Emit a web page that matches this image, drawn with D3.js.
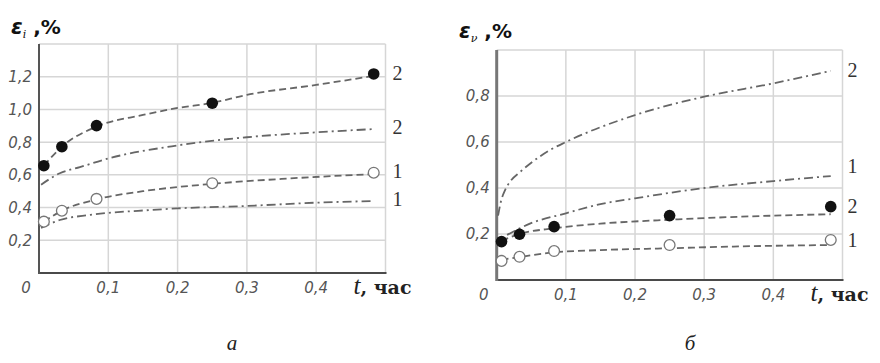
<!DOCTYPE html>
<html>
<head>
<meta charset="utf-8">
<script src="https://cdn.jsdelivr.net/npm/d3@7"></script>
<style>
  html, body { margin: 0; padding: 0; background: #fff; }
  svg { display: block; }
</style>
</head>
<body>
<svg id="chart" width="880" height="363"></svg>
<script>
// Time points of the measurements, hours
const tPoints = [0.007, 0.033, 0.083, 0.25, 0.483];

// Panel а: intensity of shear strain, %
const epsI_filled = [0.656, 0.772, 0.901, 1.038, 1.217];
const epsI_open   = [0.314, 0.381, 0.453, 0.549, 0.613];
// fitted curves as [t, value]
const epsI_fit2_dash = [[0.007,0.656],[0.033,0.772],[0.083,0.895],[0.15,0.966],[0.2,1.009],[0.25,1.04],[0.3,1.089],[0.4,1.15],[0.483,1.205]];
const epsI_fit2_dot  = [[0.003,0.54],[0.03,0.61],[0.059,0.647],[0.1,0.70],[0.2,0.78],[0.3,0.83],[0.4,0.86],[0.483,0.88]];
const epsI_fit1_dash = [[0.007,0.314],[0.033,0.381],[0.083,0.45],[0.15,0.50],[0.25,0.545],[0.35,0.575],[0.483,0.605]];
const epsI_fit1_dot  = [[0.003,0.275],[0.03,0.324],[0.074,0.355],[0.16,0.385],[0.2,0.395],[0.3,0.41],[0.4,0.43],[0.483,0.44]];

// Panel б: volumetric strain, %
const epsV_filled = [0.167, 0.199, 0.232, 0.28, 0.319];
const epsV_open   = [0.083, 0.101, 0.126, 0.152, 0.174];
const epsV_fit2_up   = [[0.002,0.28],[0.006,0.34],[0.012,0.39],[0.02,0.43],[0.034,0.47],[0.05,0.51],[0.077,0.565],[0.1,0.60],[0.2,0.717],[0.3,0.797],[0.4,0.855],[0.483,0.909]];
const epsV_fit1_up   = [[0.015,0.196],[0.048,0.245],[0.1,0.29],[0.15,0.330],[0.2,0.355],[0.3,0.40],[0.4,0.43],[0.483,0.452]];
const epsV_fit2_low  = [[0.007,0.17],[0.033,0.20],[0.083,0.225],[0.15,0.245],[0.25,0.262],[0.35,0.275],[0.483,0.286]];
const epsV_fit1_low  = [[0.007,0.088],[0.033,0.10],[0.083,0.12],[0.15,0.13],[0.25,0.138],[0.35,0.146],[0.483,0.152]];

const xTicks = [0.1, 0.2, 0.3, 0.4];
const yTicksI = [0.2, 0.4, 0.6, 0.8, 1.0, 1.2];
const yTicksV = [0.2, 0.4, 0.6, 0.8];

const svg = d3.select("#chart");
const fmt = v => d3.format(".1f")(v).replace(".", ",");

const DASH = "7,4";
const DASHDOT = "9,4,2,4";
const TICK_FONT = "italic 15px 'DejaVu Sans'";

function panel(cfg) {
  const x = d3.scaleLinear().domain([0, 0.5]).range([cfg.left, cfg.right]);
  const y = d3.scaleLinear().domain([0, cfg.yMax]).range([cfg.bottom, cfg.top]);
  const g = svg.append("g");

  // grid
  const gridX = [...xTicks, 0.5];
  g.selectAll(".gx").data(gridX).join("line")
    .attr("x1", d => x(d)).attr("x2", d => x(d))
    .attr("y1", y(0)).attr("y2", y(cfg.yMax))
    .attr("stroke", "#d6d6d6").attr("stroke-width", 1.5);
  const gridY = [...cfg.yTicks, cfg.yMax];
  g.selectAll(".gy").data(gridY).join("line")
    .attr("x1", x(0)).attr("x2", x(0.5))
    .attr("y1", d => y(d)).attr("y2", d => y(d))
    .attr("stroke", "#d6d6d6").attr("stroke-width", 1.5);

  // axes
  g.append("line").attr("x1", x(0)).attr("x2", x(0.5) + 1)
    .attr("y1", y(0)).attr("y2", y(0))
    .attr("stroke", "#4a4a4a").attr("stroke-width", 2);
  g.append("line").attr("x1", x(0)).attr("x2", x(0))
    .attr("y1", y(0) + 1).attr("y2", y(cfg.yMax))
    .attr("stroke", cfg.axisColor).attr("stroke-width", cfg.axisWidth);

  // tick labels
  g.selectAll(".ty").data(cfg.yTicks).join("text")
    .attr("x", x(0) - 7).attr("y", d => y(d)).attr("dy", "0.36em")
    .attr("text-anchor", "end")
    .style("font", TICK_FONT).attr("fill", "#555")
    .text(fmt);
  g.selectAll(".tx").data(xTicks).join("text")
    .attr("x", d => x(d)).attr("y", y(0) + 20)
    .attr("text-anchor", "middle")
    .style("font", TICK_FONT).attr("fill", "#555")
    .text(fmt);
  g.append("text").attr("x", x(0) - 13).attr("y", y(0) + 20)
    .attr("text-anchor", "middle")
    .style("font", TICK_FONT).attr("fill", "#555")
    .text("0");

  // x axis title
  const tt = g.append("text").attr("x", x(0.5) - 32).attr("y", y(0) + 21)
    .attr("fill", "#222");
  tt.append("tspan").style("font", "italic 25px 'Liberation Serif'").text("t");
  tt.append("tspan").style("font", "bold 19px 'DejaVu Serif'").text(", час");

  // y axis title
  const yt = g.append("text").attr("x", cfg.titleX).attr("y", cfg.titleY).attr("fill", "#111");
  yt.append("tspan").style("font", "bold italic 21px 'DejaVu Sans'").text("ε");
  yt.append("tspan").attr("dy", 4).style("font", "italic 11px 'DejaVu Serif'").text(cfg.sub);
  yt.append("tspan").attr("dy", -4).style("font", "bold 20px 'DejaVu Sans'").text(" ,%");

  // curves
  const line = d3.line().x(d => x(d[0])).y(d => y(d[1])).curve(d3.curveMonotoneX);
  cfg.curves.forEach(c => {
    g.append("path").datum(c.data).attr("d", line)
      .attr("fill", "none").attr("stroke", "#666")
      .attr("stroke-width", 1.8).attr("stroke-dasharray", c.dash);
  });

  // markers
  g.selectAll(".pf").data(cfg.filled).join("circle")
    .attr("cx", (d, i) => x(tPoints[i])).attr("cy", d => y(d)).attr("r", 5.8)
    .attr("fill", "#111");
  g.selectAll(".po").data(cfg.open).join("circle")
    .attr("cx", (d, i) => x(tPoints[i])).attr("cy", d => y(d)).attr("r", 5.4)
    .attr("fill", "#fff").attr("stroke", "#777").attr("stroke-width", 1.3);

  // curve labels
  cfg.labels.forEach(l => {
    g.append("text").attr("x", x(0.5) + cfg.labelDx).attr("y", y(l.v)).attr("dy", "0.35em")
      .style("font", "20px 'Liberation Serif'").attr("fill", "#333").text(l.text);
  });

  // panel caption
  g.append("text").attr("x", cfg.capX).attr("y", 350)
    .attr("text-anchor", "middle")
    .style("font", "italic 21px 'Liberation Serif'").attr("fill", "#222")
    .text(cfg.caption);
}

panel({
  left: 39, right: 385.5, top: 44, bottom: 273, yMax: 1.4,
  yTicks: yTicksI, axisColor: "#555", axisWidth: 2,
  titleX: 11, titleY: 34, sub: "i",
  filled: epsI_filled, open: epsI_open,
  curves: [
    { data: epsI_fit2_dash, dash: DASH },
    { data: epsI_fit2_dot, dash: DASHDOT },
    { data: epsI_fit1_dash, dash: DASH },
    { data: epsI_fit1_dot, dash: DASHDOT }
  ],
  labels: [{ v: 1.22, text: "2" }, { v: 0.89, text: "2" }, { v: 0.625, text: "1" }, { v: 0.455, text: "1" }],
  labelDx: 7,
  caption: "а", capX: 232
});

panel({
  left: 496.7, right: 842.5, top: 50, bottom: 280, yMax: 1.0,
  yTicks: yTicksV, axisColor: "#777", axisWidth: 3,
  titleX: 459, titleY: 38, sub: "ν",
  filled: epsV_filled, open: epsV_open,
  curves: [
    { data: epsV_fit2_up, dash: DASHDOT },
    { data: epsV_fit1_up, dash: DASHDOT },
    { data: epsV_fit2_low, dash: DASH },
    { data: epsV_fit1_low, dash: DASH }
  ],
  labels: [{ v: 0.915, text: "2" }, { v: 0.495, text: "1" }, { v: 0.32, text: "2" }, { v: 0.175, text: "1" }],
  labelDx: 5,
  caption: "б", capX: 690
});
</script>
</body>
</html>
